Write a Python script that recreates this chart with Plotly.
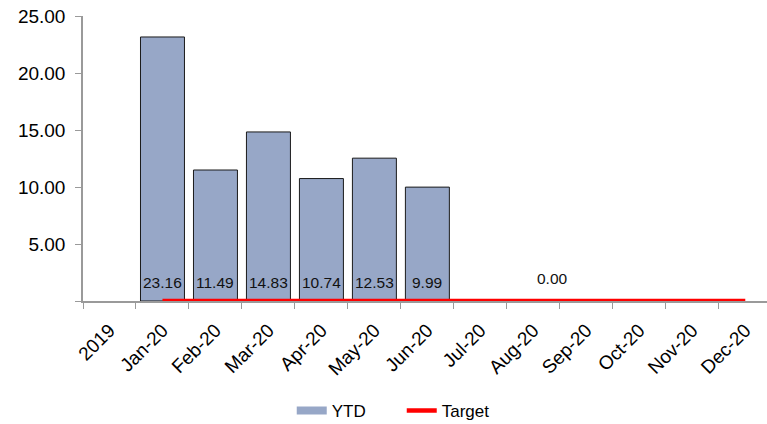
import plotly.graph_objects as go

categories = ["2019", "Jan-20", "Feb-20", "Mar-20", "Apr-20", "May-20", "Jun-20",
              "Jul-20", "Aug-20", "Sep-20", "Oct-20", "Nov-20", "Dec-20"]
ytd_values = [None, 23.16, 11.49, 14.83, 10.74, 12.53, 9.99,
              None, None, None, None, None, None]
target_categories = categories[1:]
target_values = [0, 0, 0, 0, 0, 0, 0, 0, 0, 0, 0, 0]
y_tick_vals = [0, 5, 10, 15, 20, 25]
y_tick_text = ["", "5.00", "10.00", "15.00", "20.00", "25.00"]

FONT = "Liberation Sans, Arial, sans-serif"
AXIS_GREY = "#9a9a9a"
BAR_FILL = "#97a7c7"

fig = go.Figure()
fig.add_trace(go.Bar(
    x=categories, y=ytd_values, name="YTD", showlegend=False,
    marker=dict(color=BAR_FILL, line=dict(color="#1a1a1a", width=1)),
    width=0.83,
))
# legend swatch for the bars (wide rectangle, as in the original)
fig.add_trace(go.Scatter(
    x=[None], y=[None], name="YTD", mode="lines",
    line=dict(color=BAR_FILL, width=8),
))
fig.add_trace(go.Scatter(
    x=target_categories, y=target_values, name="Target", mode="lines",
    line=dict(color="#ff0000", width=4.5), cliponaxis=False,
))

annotations = []
for c, v in zip(categories, ytd_values):
    if v is not None:
        annotations.append(dict(x=c, y=0, xref="x", yref="y", text=f"{v:.2f}",
                                showarrow=False, yshift=19,
                                font=dict(family=FONT, size=15.5, color="#111")))
annotations.append(dict(x=8.36, y=target_values[0], xref="x", yref="y",
                        text=f"{target_values[0]:.2f}", showarrow=False, yshift=23,
                        font=dict(family=FONT, size=15.5, color="#111")))

fig.update_layout(
    width=767, height=424,
    margin=dict(l=83, r=0, t=16, b=123, autoexpand=False),
    paper_bgcolor="white", plot_bgcolor="white",
    font=dict(family=FONT, size=17, color="#000"),
    showlegend=True,
    legend=dict(orientation="h", x=0.466, xanchor="center", y=-0.386, yanchor="middle",
                font=dict(family=FONT, size=17), traceorder="normal",
                entrywidth=65, entrywidthmode="pixels"),
    annotations=annotations,
    bargap=0.17,
)
fig.update_xaxes(
    type="category", categoryorder="array", categoryarray=categories,
    range=[-0.5, 12.41], tickson="boundaries", ticks="outside", ticklen=6,
    tickcolor=AXIS_GREY, showline=True, linecolor=AXIS_GREY, linewidth=1.5,
    showgrid=False, tickangle=-45, tickfont=dict(size=19), automargin=False,
    ticklabelstandoff=9,
)
fig.update_yaxes(
    range=[0, 25], tickvals=y_tick_vals, ticktext=y_tick_text,
    ticks="outside", ticklen=6, tickcolor=AXIS_GREY, showline=True,
    linecolor=AXIS_GREY, linewidth=1.5, showgrid=False, zeroline=False,
    tickfont=dict(size=19), automargin=False, ticklabelstandoff=6,
)

fig.write_html("out.html", config={"displayModeBar": False},
               post_script="document.body.style.margin='0';")
